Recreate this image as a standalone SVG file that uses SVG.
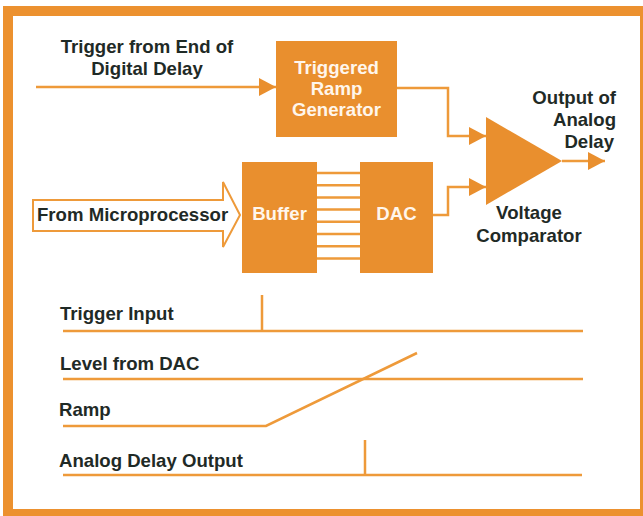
<svg xmlns="http://www.w3.org/2000/svg" width="643" height="516" viewBox="0 0 643 516">
<defs>
<style>
.lbl{font-family:"Liberation Sans",Arial,Helvetica,sans-serif;font-weight:bold;font-size:18.6px;fill:#1f2a26}
.wt{font-family:"Liberation Sans",Arial,Helvetica,sans-serif;font-weight:bold;font-size:18.6px;fill:#fff6ec}
.box{fill:#E98F2E}
.wire{fill:none;stroke:#EE9A3A;stroke-width:2.5}
.trace{fill:none;stroke:#EE9A3A;stroke-width:2.5}
</style>
<marker id="ah" viewBox="0 0 17 18" refX="17" refY="9" markerWidth="17" markerHeight="18" markerUnits="userSpaceOnUse" orient="auto">
<path d="M0,0 L17,9 L0,18 Z" fill="#E98F2E"/>
</marker>
</defs>
<rect x="0" y="0" width="643" height="516" fill="#ffffff"/>
<g id="frame">
<rect x="3" y="6" width="640" height="510" fill="#EC912F"/>
<rect x="13" y="16" width="627" height="493" fill="#ffffff"/>
</g>
<g id="trigger-label">
<text class="lbl" x="147" y="53" text-anchor="middle">Trigger from End of</text>
<text class="lbl" x="147" y="74.5" text-anchor="middle">Digital Delay</text>
</g>
<g id="ramp-generator">
<rect class="box" x="276" y="41" width="121" height="96"/>
<text class="wt" x="336.5" y="74" text-anchor="middle">Triggered</text>
<text class="wt" x="336.5" y="95" text-anchor="middle">Ramp</text>
<text class="wt" x="336.5" y="116" text-anchor="middle">Generator</text>
</g>
<g id="microprocessor-input">
<polygon points="33,200 223,200 223,182 240,215 223,247 223,231 33,231" fill="#ffffff" stroke="#EE9A3A" stroke-width="2"/>
<text class="lbl" x="37" y="221">From Microprocessor</text>
</g>
<g id="buffer">
<rect class="box" x="242" y="162" width="75" height="111"/>
<text class="wt" x="279.5" y="220" text-anchor="middle">Buffer</text>
</g>
<g id="dac">
<rect class="box" x="360" y="162" width="73" height="111"/>
<text class="wt" x="396.5" y="220" text-anchor="middle">DAC</text>
</g>
<g id="comparator">
<polygon class="box" points="486,117 562,161 486,205"/>
<text class="lbl" x="529" y="219" text-anchor="middle">Voltage</text>
<text class="lbl" x="529" y="241.5" text-anchor="middle">Comparator</text>
</g>
<g id="output-label">
<text class="lbl" x="616" y="104" text-anchor="end">Output of</text>
<text class="lbl" x="616" y="126" text-anchor="end">Analog</text>
<text class="lbl" x="614" y="147.5" text-anchor="end">Delay</text>
</g>
<g id="connectors">
<path class="wire" d="M36,87 H276" marker-end="url(#ah)"/>
<path class="wire" d="M397,88 H448 V136 H486" marker-end="url(#ah)"/>
<path class="wire" d="M433,215 H448 V187 H486" marker-end="url(#ah)"/>
<path class="wire" d="M562,161 H605" marker-end="url(#ah)"/>
<g id="bus">
<path class="wire" d="M317,173 H360 M317,185.2 H360 M317,197.4 H360 M317,209.6 H360 M317,221.8 H360 M317,234 H360 M317,246.2 H360 M317,258.4 H360"/>
</g>
</g>
<g id="timing">
<text class="lbl" x="60" y="320">Trigger Input</text>
<path class="trace" d="M63,331 H583 M262,295 V331"/>
<text class="lbl" x="60" y="370">Level from DAC</text>
<path class="trace" d="M63,379 H583"/>
<text class="lbl" x="59" y="416">Ramp</text>
<path class="trace" d="M63,426 H266 L417,353"/>
<text class="lbl" x="59" y="467">Analog Delay Output</text>
<path class="trace" d="M63,475 H582 M365,440 V475"/>
</g>
</svg>
